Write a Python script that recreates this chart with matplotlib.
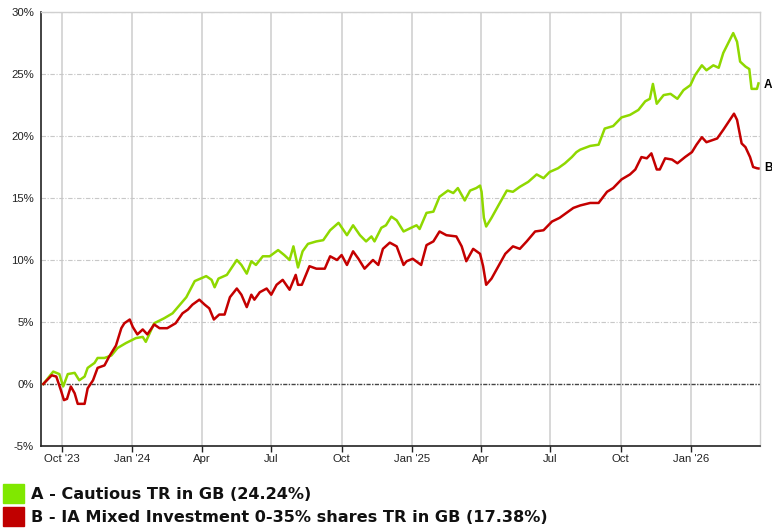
import matplotlib
matplotlib.use("Agg")
import matplotlib.pyplot as plt
import matplotlib.dates as mdates
from matplotlib.patches import Rectangle
import pandas as pd

# ---------------- data ----------------
a_dates = ["2023-09-07", "2023-09-20", "2023-09-28", "2023-10-03", "2023-10-09", "2023-10-18",
           "2023-10-24", "2023-10-31", "2023-11-04", "2023-11-13", "2023-11-17", "2023-11-26",
           "2023-12-05", "2023-12-13", "2023-12-24", "2024-01-06", "2024-01-15", "2024-01-19",
           "2024-01-30", "2024-02-12", "2024-02-23", "2024-03-12", "2024-03-23", "2024-04-07",
           "2024-04-14", "2024-04-18", "2024-04-23", "2024-05-04", "2024-05-17", "2024-05-23",
           "2024-05-30", "2024-06-05", "2024-06-11", "2024-06-20", "2024-06-29", "2024-07-10",
           "2024-07-18", "2024-07-25", "2024-07-30", "2024-08-05", "2024-08-11", "2024-08-18",
           "2024-08-29", "2024-09-07", "2024-09-16", "2024-09-27", "2024-10-08", "2024-10-16",
           "2024-10-25", "2024-11-02", "2024-11-09", "2024-11-13", "2024-11-22", "2024-11-28",
           "2024-12-05", "2024-12-12", "2024-12-21", "2024-12-31", "2025-01-07", "2025-01-11",
           "2025-01-20", "2025-01-29", "2025-02-06", "2025-02-17", "2025-02-24", "2025-03-02",
           "2025-03-11", "2025-03-18", "2025-03-26", "2025-03-31", "2025-04-02", "2025-04-05",
           "2025-04-08", "2025-04-15", "2025-04-24", "2025-05-05", "2025-05-13", "2025-05-22",
           "2025-06-02", "2025-06-13", "2025-06-22", "2025-06-30", "2025-07-11", "2025-07-20",
           "2025-07-29", "2025-08-04", "2025-08-09", "2025-08-22", "2025-09-02", "2025-09-10",
           "2025-09-21", "2025-10-02", "2025-10-13", "2025-10-24", "2025-11-02", "2025-11-08",
           "2025-11-12", "2025-11-17", "2025-11-26", "2025-12-05", "2025-12-14", "2025-12-22",
           "2025-12-31", "2026-01-06", "2026-01-15", "2026-01-21", "2026-01-30", "2026-02-06",
           "2026-02-12", "2026-02-25", "2026-03-02", "2026-03-06", "2026-03-13", "2026-03-18",
           "2026-03-21", "2026-03-28", "2026-03-30"]
a_values = [0.0, 1.0, 0.8, -0.2, 0.8, 0.9,
            0.3, 0.6, 1.3, 1.7, 2.1, 2.1,
            2.3, 2.9, 3.3, 3.7, 3.8, 3.4,
            4.9, 5.3, 5.7, 7.0, 8.3, 8.7,
            8.4, 7.8, 8.5, 8.8, 10.0, 9.6,
            8.9, 9.9, 9.6, 10.3, 10.3, 10.8,
            10.4, 10.0, 11.1, 9.4, 10.7, 11.3,
            11.5, 11.6, 12.4, 13.0, 12.0, 12.8,
            12.0, 11.5, 11.9, 11.5, 12.6, 12.8,
            13.5, 13.2, 12.3, 12.6, 12.8, 12.5,
            13.8, 13.9, 15.1, 15.6, 15.4, 15.8,
            14.8, 15.6, 15.8, 16.0, 15.5, 13.4,
            12.7, 13.4, 14.4, 15.6, 15.5, 15.9,
            16.3, 16.9, 16.6, 17.1, 17.4, 17.8,
            18.3, 18.7, 18.9, 19.2, 19.3, 20.6,
            20.8, 21.5, 21.7, 22.1, 22.8, 23.0,
            24.2, 22.6, 23.3, 23.4, 23.0, 23.7,
            24.1, 24.9, 25.7, 25.3, 25.7, 25.5,
            26.7, 28.3, 27.6, 26.0, 25.6, 25.4,
            23.8, 23.8, 24.24]

b_dates = ["2023-09-07", "2023-09-18", "2023-09-24", "2023-09-30", "2023-10-04", "2023-10-08",
           "2023-10-13", "2023-10-18", "2023-10-22", "2023-10-31", "2023-11-04", "2023-11-11",
           "2023-11-17", "2023-11-26", "2023-12-02", "2023-12-11", "2023-12-18", "2023-12-22",
           "2023-12-29", "2024-01-02", "2024-01-08", "2024-01-15", "2024-01-21", "2024-01-30",
           "2024-02-06", "2024-02-16", "2024-02-27", "2024-03-07", "2024-03-14", "2024-03-20",
           "2024-03-29", "2024-04-05", "2024-04-11", "2024-04-17", "2024-04-24", "2024-05-01",
           "2024-05-08", "2024-05-17", "2024-05-23", "2024-05-30", "2024-06-05", "2024-06-09",
           "2024-06-16", "2024-06-25", "2024-07-01", "2024-07-08", "2024-07-16", "2024-07-25",
           "2024-08-02", "2024-08-05", "2024-08-10", "2024-08-20", "2024-08-29", "2024-09-09",
           "2024-09-16", "2024-09-25", "2024-10-01", "2024-10-08", "2024-10-16", "2024-10-23",
           "2024-10-31", "2024-11-11", "2024-11-18", "2024-11-24", "2024-12-03", "2024-12-12",
           "2024-12-21", "2024-12-25", "2025-01-02", "2025-01-13", "2025-01-20", "2025-01-29",
           "2025-02-06", "2025-02-15", "2025-02-28", "2025-03-07", "2025-03-13", "2025-03-22",
           "2025-03-31", "2025-04-04", "2025-04-08", "2025-04-15", "2025-04-24", "2025-05-03",
           "2025-05-13", "2025-05-22", "2025-05-31", "2025-06-11", "2025-06-22", "2025-07-03",
           "2025-07-13", "2025-07-22", "2025-07-31", "2025-08-09", "2025-08-22", "2025-09-02",
           "2025-09-13", "2025-09-21", "2025-10-02", "2025-10-13", "2025-10-20", "2025-10-28",
           "2025-11-04", "2025-11-10", "2025-11-17", "2025-11-21", "2025-11-28", "2025-12-07",
           "2025-12-14", "2025-12-24", "2026-01-02", "2026-01-08", "2026-01-15", "2026-01-21",
           "2026-02-04", "2026-02-12", "2026-02-26", "2026-03-02", "2026-03-08", "2026-03-13",
           "2026-03-19", "2026-03-23", "2026-03-28", "2026-03-30"]
b_values = [0.0, 0.7, 0.6, -0.5, -1.3, -1.2,
            -0.2, -0.75, -1.6, -1.6, -0.35, 0.3,
            1.3, 1.5, 2.2, 3.1, 4.5, 4.9,
            5.2, 4.6, 4.0, 4.4, 4.0, 4.8,
            4.5, 4.5, 4.9, 5.7, 6.0, 6.4,
            6.8, 6.4, 6.1, 5.2, 5.6, 5.6,
            7.0, 7.7, 7.2, 6.2, 7.2, 6.8,
            7.4, 7.7, 7.2, 8.0, 8.4, 7.6,
            8.8, 8.0, 8.0, 9.5, 9.3, 9.3,
            10.3, 10.0, 10.4, 9.6, 10.7, 10.1,
            9.3, 10.0, 9.6, 10.9, 11.4, 11.1,
            9.6, 9.9, 10.1, 9.6, 11.2, 11.5,
            12.3, 12.0, 11.9, 11.1, 9.9, 10.9,
            10.5, 9.5, 8.0, 8.5, 9.5, 10.5,
            11.1, 10.9, 11.5, 12.3, 12.4, 13.1,
            13.4, 13.8, 14.2, 14.4, 14.6, 14.6,
            15.5, 15.8, 16.5, 16.9, 17.3, 18.3,
            18.2, 18.6, 17.3, 17.3, 18.2, 18.1,
            17.8, 18.3, 18.7, 19.3, 19.9, 19.5,
            19.8, 20.5, 21.8, 21.3, 19.4, 19.1,
            18.3, 17.5, 17.4, 17.38]

series_names = ["A - Cautious TR in GB (24.24%)",
                "B - IA Mixed Investment 0-35% shares TR in GB (17.38%)"]
end_labels = ["A", "B"]

tick_dates = ["2023-10-01", "2024-01-01", "2024-04-01", "2024-07-01", "2024-10-01",
              "2025-01-01", "2025-04-01", "2025-07-01", "2025-10-01", "2026-01-01"]
tick_labels = ["Oct '23", "Jan '24", "Apr", "Jul", "Oct", "Jan '25", "Apr", "Jul", "Oct", "Jan '26"]
y_ticks = [-5, 0, 5, 10, 15, 20, 25, 30]

# ---------------- styling ----------------
GREEN = "#8fd800"
RED = "#c40000"
GREEN_LEG = "#80e800"
RED_LEG = "#c00000"

plt.rcParams["font.family"] = ["Liberation Sans", "DejaVu Sans"]

fig = plt.figure(figsize=(7.72, 5.30), dpi=100)
ax = fig.add_axes([41 / 772, 1 - 446 / 530, (760 - 41) / 772, (446 - 12) / 530])

ad = pd.to_datetime(a_dates)
bd = pd.to_datetime(b_dates)

# grid
for t in pd.to_datetime(tick_dates):
    ax.axvline(t, color="#d4d4d4", lw=1.3, zorder=0)
for y in y_ticks:
    if y != 0:
        ax.axhline(y, color="#c8c8c8", lw=0.8, ls=(0, (4, 1.5, 1, 1.5)), zorder=0)
ax.axhline(0, color="#444444", lw=1.0, ls=(0, (3, 1, 1, 1)), zorder=1)

ax.plot(ad, a_values, color=GREEN, lw=1.8, zorder=3, solid_joinstyle="round")
ax.plot(bd, b_values, color=RED, lw=1.8, zorder=4, solid_joinstyle="round")

ax.set_xlim(pd.Timestamp("2023-09-04"), pd.Timestamp("2026-04-01"))
ax.set_ylim(-5, 30)

ax.set_yticks(y_ticks)
ax.set_yticklabels([f"{v}%" for v in y_ticks])
ax.set_xticks(pd.to_datetime(tick_dates))
ax.set_xticklabels(tick_labels)

ax.tick_params(axis="y", length=0, pad=5, labelsize=8.2, colors="#222222")
ax.tick_params(axis="x", length=4, width=1, direction="out", pad=2, labelsize=8.2,
               colors="#222222")

for s in ["left", "bottom"]:
    ax.spines[s].set_color("#222222")
    ax.spines[s].set_linewidth(1.2)
for s in ["top", "right"]:
    ax.spines[s].set_color("#d0d0d0")
    ax.spines[s].set_linewidth(1.0)

# end labels
ax.annotate(end_labels[0], xy=(ad[-1], a_values[-1]), xytext=(4, -1), textcoords="offset points",
            va="center", ha="left", fontsize=8.5, fontweight="bold", annotation_clip=False)
ax.annotate(end_labels[1], xy=(bd[-1], b_values[-1]), xytext=(4, 0), textcoords="offset points",
            va="center", ha="left", fontsize=8.5, fontweight="bold", annotation_clip=False)

# legend (custom)
W, H = 772, 530
for i, (name, col) in enumerate(zip(series_names, [GREEN_LEG, RED_LEG])):
    ytop = 484 + i * 23
    fig.patches.append(Rectangle((3 / W, 1 - (ytop + 19) / H), 21 / W, 19 / H,
                                 transform=fig.transFigure, color=col, zorder=5))
    fig.text(31 / W, 1 - (ytop + 10.5) / H, name, fontsize=11.6, fontweight="bold",
             family=["DejaVu Sans"], va="center", ha="left", color="#111111")

fig.savefig("out.png", dpi=100)
